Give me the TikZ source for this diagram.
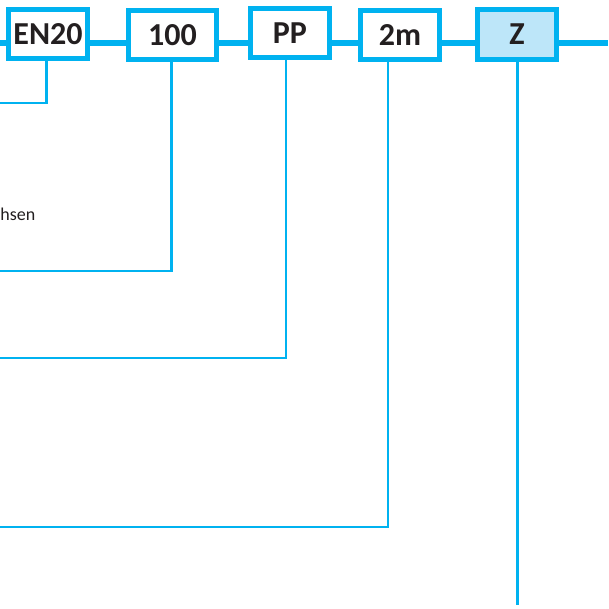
\documentclass[tikz,border=0pt]{standalone}
\usepackage{fontspec}
\setmainfont{Carlito}
\usepackage{xcolor}
\definecolor{codeblue}{RGB}{0,178,240}
\definecolor{codefill}{RGB}{189,230,249}
\definecolor{inkgray}{RGB}{35,31,32}

\begin{document}
\begin{tikzpicture}[x=1pt,y=-1pt,line cap=butt,
  codebox/.style={draw=codeblue,line width=5pt,fill=white,minimum width=79pt,minimum height=49pt,
    inner sep=0pt,font=\fontsize{32}{32}\selectfont\bfseries,text=inkgray},
  bus/.style={codeblue,line width=5.5pt},
  drop/.style={codeblue,line width=2.7pt}]
  % order code: boxes on one bus line, each with a drop line to its note
  \useasboundingbox (0,0) rectangle (608,609);
  \coordinate (bus) at (0,43);
  \coordinate (busend) at (608,43);
  \draw[bus] (bus) -- (busend);
  \node[codebox] (en) at (48,34.5) {\raisebox{1pt}{EN20}};
  \node[codebox,minimum width=88pt] (hundred) at (172.5,35.5) {\raisebox{1pt}{100}};
  \node[codebox] (pp) at (290,33.5) {\raisebox{1pt}{PP}};
  \node[codebox] (len) at (400,35.5) {\raisebox{1pt}{2m}};
  \node[codebox,fill=codefill,minimum height=50pt] (z) at (517,34.5) {\raisebox{1pt}{Z}};
  % drop lines
  \coordinate (enend) at (0,103);
  \coordinate (hundredend) at (0,271);
  \coordinate (ppend) at (0,358);
  \coordinate (lenend) at (0,527);
  \coordinate (zend) at (517.5,605);
  \draw[drop,line join=miter] ([xshift=-1.5pt]en.south) |- (enend);
  \draw[drop,line join=miter] ([xshift=-0.8pt]hundred.south) |- (hundredend);
  \draw[drop,line join=miter] ([xshift=-4pt]pp.south) |- (ppend);
  \draw[drop,line join=miter] ([xshift=-12pt]len.south) |- (lenend);
  \draw[drop] ([xshift=0.5pt]z.south) -- (zend);
  \node[anchor=east,font=\fontsize{18}{18}\selectfont,text=inkgray,inner sep=0pt] (note) at (35.5,214) {hsen};
\end{tikzpicture}
\end{document}
